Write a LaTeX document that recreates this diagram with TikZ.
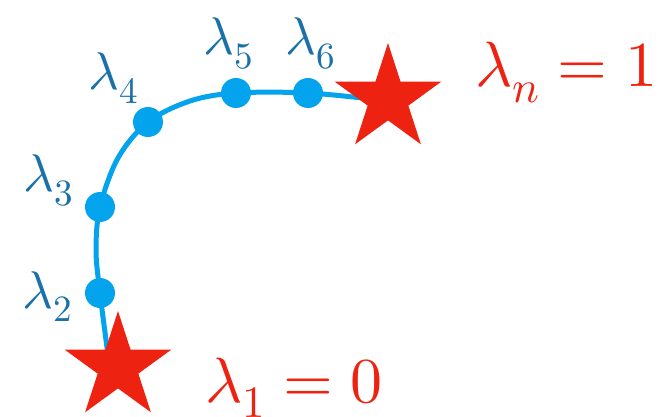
\documentclass[tikz,border=0pt]{standalone}
\usepackage{unicode-math}
\setmathfont{Latin Modern Math}
\usetikzlibrary{shapes.geometric}
\definecolor{starred}{HTML}{EE2211}
\definecolor{dotblue}{HTML}{03A3EE}
\definecolor{labblue}{HTML}{1A70A8}
\begin{document}
\begin{tikzpicture}[x=1pt,y=-1pt,
  dotnode/.style={circle,fill=dotblue,minimum size=30pt,inner sep=0pt},
  starnode/.style={star,star points=5,star point ratio=2.618,fill=starred,minimum size=112pt,inner sep=0pt},
  smalllab/.style={anchor=base west,inner sep=0pt,text=labblue,font=\fontsize{53}{60}\selectfont},
  biglab/.style={anchor=base west,inner sep=0pt,text=starred,font=\fontsize{64}{72}\selectfont},
  curve/.style={draw=dotblue,line width=5pt}]
\useasboundingbox (0,0) rectangle (659,417);
\coordinate (s1c) at (108,355);
\coordinate (sNc) at (380,100);
\coordinate (d2) at (100,293);
\coordinate (d3) at (100,207);
\coordinate (d4) at (148,122);
\coordinate (d5) at (236,93);
\coordinate (d6) at (308,93);
\draw[curve] plot[smooth,tension=0.55] coordinates {(s1c) (d2) (96,250) (d3) (118,158) (d4) (190,101) (d5) (d6) (sNc)};
\foreach \i in {2,...,6} \node[dotnode] (n\i) at (d\i) {};
\node[starnode] (s1) at (118,367) {};
\node[starnode] (sN) at (388,99) {};
\node[smalllab] (l2) at (22,308) {$\lambda_2$};
\node[smalllab] (l3) at (23,192) {$\lambda_3$};
\node[smalllab] (l4) at (88,90) {$\lambda_4$};
\node[smalllab] (l5) at (203,55) {$\lambda_5$};
\node[smalllab] (l6) at (285,55) {$\lambda_6$};
\node[biglab] (l1) at (205,402) {$\lambda_1=0$};
\node[biglab] (ln) at (475,87) {$\lambda_n=1$};
\end{tikzpicture}
\end{document}
